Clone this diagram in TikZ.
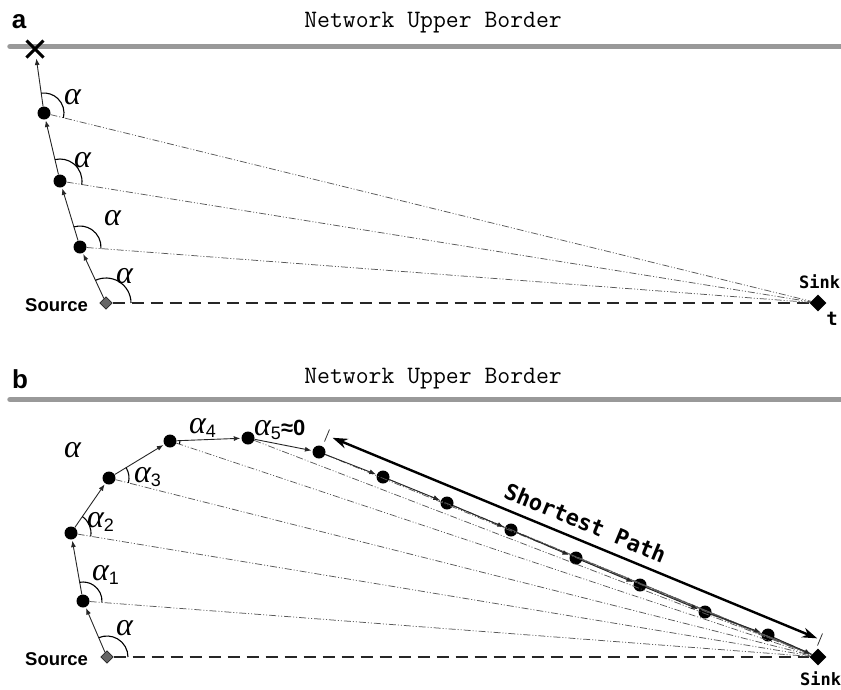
\documentclass[tikz,border=0pt]{standalone}
\usepackage{fontspec}
\usetikzlibrary{shapes.geometric,shapes.misc,arrows.meta,calc,angles}
\newfontfamily\monob{DejaVu Sans Mono}
\newfontfamily\sansb{Liberation Sans}
\newfontfamily\lserif{Liberation Serif}
\newcommand{\asub}[1]{\raisebox{-4pt}{\sansb\upshape\fontsize{18}{19}\selectfont #1}}
\begin{document}
\begin{tikzpicture}[x=1pt,y=1pt,
  dot/.style={circle,fill=black,inner sep=0,minimum size=13pt},
  srcnode/.style={diamond,draw=black!85,fill=black!60,line width=0.8pt,inner sep=0,minimum size=12.5pt},
  sinknode/.style={diamond,fill=black,inner sep=0,minimum size=17pt},
  xnode/.style={cross out,draw=black,line width=3pt,inner sep=0,minimum size=14pt},
  hop/.style={-{Latex[length=6.5pt,width=5pt]},line width=0.9pt,black!85,shorten >=1pt},
  ray/.style={line width=0.75pt,black!65,dash pattern=on 7pt off 2pt on 1pt off 2pt on 1pt off 2pt},
  baseline/.style={line width=2.4pt,black!85,dash pattern=on 12pt off 7pt},
  border/.style={line width=5.5pt,black!40,line cap=round},
  ang/.style={draw,line width=1.1pt,angle radius=#1},
  alab/.style={inner sep=0,anchor=base west,font=\lserif\itshape\fontsize{32}{34}\selectfont},
  panel/.style={inner sep=0,anchor=base,font=\sansb\bfseries\fontsize{26}{28}\selectfont},
  title/.style={inner sep=0,anchor=base,font=\ttfamily\fontsize{25}{27}\selectfont},
  srclab/.style={inner sep=0,anchor=base west,font=\sansb\bfseries\fontsize{18.5}{20}\selectfont},
  sinklab/.style={inner sep=0,anchor=base west,font=\monob\bfseries\fontsize{17}{18}\selectfont},
  spath/.style={line width=2.4pt,black,{Stealth[length=15pt,width=10pt]}-{Stealth[length=15pt,width=10pt]}},
  tick/.style={line width=0.8pt,black!80}
]
\useasboundingbox (0,0) rectangle (841,-689);

% ---------------- panel a ----------------
\node[panel] (la) at (19,-28) {a};
\node[title] (ta) at (433,-27.5) {Network Upper Border};
\draw[border] (10,-46.5) -- (841,-46.5);

\node[srcnode] (aS) at (106,-303) {};
\node[dot] (a1) at (80,-247) {};
\node[dot] (a2) at (60,-181) {};
\node[dot] (a3) at (44,-113) {};
\node[xnode] (aX) at (35,-49) {};
\node[sinknode] (aT) at (818,-303) {};

\draw[baseline] (aS) -- (aT);
\foreach \n in {a1,a2,a3} \draw[ray] (\n) -- (aT);
\draw[hop] (aS) -- (a1);
\draw[hop] (a1) -- (a2);
\draw[hop] (a2) -- (a3);
\draw[hop] (a3) -- (aX);

\pic[ang=25pt] {angle=aT--aS--a1};
\pic[ang=21pt] {angle=aT--a1--a2};
\pic[ang=22pt] {angle=aT--a2--a3};
\pic[ang=20pt] {angle=aT--a3--aX};

\node[alab] (aa3) at (64,-104) {α};
\node[alab] (aa2) at (74,-167) {α};
\node[alab] (aa1) at (104,-225) {α};
\node[alab] (aaS) at (116,-283) {α};

\node[srclab] (las) at (25,-311) {Source};
\node[sinklab] (lat) at (799,-288) {Sink};
\node[inner sep=0,anchor=base,font=\monob\bfseries\fontsize{19}{20}\selectfont] (ltt) at (832,-325) {t};

% ---------------- panel b ----------------
\node[panel] (lb) at (20,-388) {b};
\node[title] (tb) at (433,-383) {Network Upper Border};
\draw[border] (10,-399.5) -- (841,-399.5);

\node[srcnode] (bS) at (107,-657) {};
\node[dot] (b1) at (83,-601) {};
\node[dot] (b2) at (71,-533) {};
\node[dot] (b3) at (109,-478) {};
\node[dot] (b4) at (170,-441) {};
\node[dot] (b5) at (248,-438) {};
\node[dot] (b6) at (319,-452) {};
\node[dot] (b7) at (383,-477) {};
\node[dot] (b8) at (447,-503) {};
\node[dot] (b9) at (511,-530) {};
\node[dot] (b10) at (576,-558) {};
\node[dot] (b11) at (640,-585) {};
\node[dot] (b12) at (705,-612) {};
\node[dot] (b13) at (768,-635) {};
\node[sinknode] (bT) at (818,-657) {};

\draw[baseline] (bS) -- (bT);
\foreach \n in {b1,b2,b3,b4,b5,b6,b7,b8,b9,b10,b11,b12,b13} \draw[ray] (\n) -- (bT);
\draw[hop] (bS) -- (b1);
\foreach \p/\q in {b1/b2,b2/b3,b3/b4,b4/b5,b5/b6,b6/b7,b7/b8,b8/b9,b9/b10,b10/b11,b11/b12,b12/b13,b13/bT}
  \draw[hop] (\p) -- (\q);

\pic[ang=21pt] {angle=bT--bS--b1};
\pic[ang=19pt] {angle=bT--b1--b2};
\pic[ang=20pt] {angle=bT--b2--b3};
\pic[ang=20pt] {angle=bT--b3--b4};
\pic[ang=10pt] {angle=bT--b4--b5};

\node[alab] (bal) at (64,-457) {α};
\node[alab] (baS) at (116,-635) {α};
\node[alab] (ba1) at (92,-580) {α\asub{1}};
\node[alab] (ba2) at (87,-527) {α\asub{2}};
\node[alab] (ba3) at (134,-482) {α\asub{3}};
\node[alab] (ba4) at (189,-433) {α\asub{4}};
\node[alab] (ba5) at (254,-435) {α\asub{5}{\sansb\bfseries\upshape\fontsize{22}{24}\selectfont ≈0}};

\coordinate (tA) at (327,-435.5);
\coordinate (tB) at (820,-639.5);
\draw[tick] ($(tA)!6.5pt!90:(tB)$) -- ($(tA)!6.5pt!-90:(tB)$);
\draw[tick] ($(tB)!6.5pt!90:(tA)$) -- ($(tB)!6.5pt!-90:(tA)$);
\draw[spath, shorten <=6pt, shorten >=3pt] (tA) -- (tB)
  node[pos=0.51, sloped, above=8.5pt, inner sep=0, font=\monob\bfseries\fontsize{22}{24}\selectfont] (spl) {Shortest Path};

\node[srclab] (lbs) at (25,-665) {Source};
\node[sinklab] (lbt) at (800,-685) {Sink};
\end{tikzpicture}
\end{document}
